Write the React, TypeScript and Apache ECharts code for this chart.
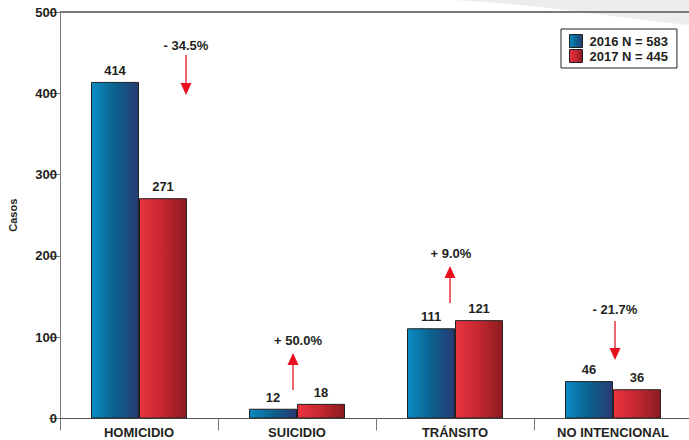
import React, { useEffect, useRef } from "react";
import * as echarts from "echarts";

const categories = ["HOMICIDIO", "SUICIDIO", "TRÁNSITO", "NO INTENCIONAL"];
const values2016 = [414, 12, 111, 46];
const values2017 = [271, 18, 121, 36];
const seriesNames = ["2016 N = 583", "2017 N = 445"];
const changes = ["- 34.5%", "+ 50.0%", "+ 9.0%", "- 21.7%"];
const yMin = 0;
const yMax = 500;
const yInterval = 100;

// annotation layout (pixel offsets / positions, not data)
const annLayout = [
  { dx: 47, textDx: 0, textY: 45, tail: 55, tip: 95 },
  { dx: -4, textDx: 5, textY: 340, tail: 390, tip: 353 },
  { dx: -5, textDx: 1, textY: 253, tail: 303, tip: 266 },
  { dx: 2, textDx: 0, textY: 309, tail: 321, tip: 360 },
];

const FONT = "'Liberation Sans', Arial, Helvetica, sans-serif";
const TXT = "#231f20";

export default function App() {
  const ref = useRef<HTMLDivElement>(null);
  useEffect(() => {
    if (!ref.current) return;
    const chart = echarts.init(ref.current, undefined, { renderer: "svg" });
    const blue = new echarts.graphic.LinearGradient(0, 0, 1, 0, [
      { offset: 0, color: "#0a8cc6" },
      { offset: 0.5, color: "#0b628f" },
      { offset: 1, color: "#283a72" },
    ]);
    const red = new echarts.graphic.LinearGradient(0, 0, 1, 0, [
      { offset: 0, color: "#ea3440" },
      { offset: 0.5, color: "#c42730" },
      { offset: 1, color: "#8a1b1f" },
    ]);
    const labelStyle = {
      show: true,
      position: "top" as const,
      distance: 5,
      color: TXT,
      fontWeight: "bold" as const,
      fontSize: 13,
      fontFamily: FONT,
    };
    chart.setOption({
      animation: false,
      textStyle: { fontFamily: FONT },
      grid: {
        left: 60,
        top: 12,
        width: 632,
        height: 406.5,
        containLabel: false,
        outerBoundsMode: "none",
      },
      legend: {
        left: 561,
        top: 29,
        orient: "vertical",
        itemWidth: 13,
        itemHeight: 13,
        itemGap: 1,
        padding: [5, 9, 5, 8],
        borderColor: "#222",
        borderWidth: 1,
        backgroundColor: "#fff",
        icon: "rect",
        itemStyle: { borderColor: "#222", borderWidth: 1 },
        textStyle: { color: TXT, fontWeight: "bold", fontSize: 13, fontFamily: FONT, padding: [0, 0, 0, 2] },
        data: seriesNames,
      },
      xAxis: {
        type: "category",
        data: categories,
        axisLine: { lineStyle: { color: "#555", width: 1 } },
        axisTick: { show: true, length: 12, lineStyle: { color: "#777" } },
        axisLabel: { color: TXT, fontWeight: "bold", fontSize: 13, fontFamily: FONT, margin: 7 },
      },
      yAxis: {
        type: "value",
        min: yMin,
        max: yMax,
        interval: yInterval,
        name: "Casos",
        nameLocation: "middle",
        nameGap: 42,
        nameRotate: 90,
        nameTextStyle: { color: TXT, fontWeight: "bold", fontSize: 11, fontFamily: FONT },
        axisLine: { show: true, lineStyle: { color: "#777", width: 1 } },
        axisTick: { show: true, length: 11, lineStyle: { color: "#777" } },
        axisLabel: { color: TXT, fontWeight: "bold", fontSize: 13, fontFamily: FONT, margin: 3 },
        splitLine: { show: false },
      },
      series: [
        {
          name: seriesNames[0],
          type: "bar",
          data: values2016,
          barWidth: 48,
          barGap: "0%",
          itemStyle: { color: blue, borderColor: "#222", borderWidth: 1 },
          label: labelStyle,
        },
        {
          name: seriesNames[1],
          type: "bar",
          data: values2017,
          barWidth: 48,
          barGap: "0%",
          itemStyle: { color: red, borderColor: "#222", borderWidth: 1 },
          label: labelStyle,
        },
      ],
    });

    const topY = chart.convertToPixel({ yAxisIndex: 0 }, yMax) as number;
    const leftX = chart.convertToPixel({ xAxisIndex: 0 }, categories[0]) as number - 79;
    const graphics: any[] = [
      {
        type: "polygon",
        z: -1,
        shape: {
          points: [
            [455, 0], [689, 0], [689, 25], [660, 22], [620, 17], [580, 12], [540, 7], [500, 3],
          ],
        },
        style: { fill: "#ececec" },
        silent: true,
      },
      {
        type: "line",
        shape: { x1: leftX, y1: topY, x2: 689, y2: topY },
        style: { stroke: "#7a7a7a", lineWidth: 2 },
        silent: true,
      },
    ];
    categories.forEach((c, i) => {
      const cx = chart.convertToPixel({ xAxisIndex: 0 }, c) as number;
      const a = annLayout[i];
      const ax = cx + a.dx;
      const down = a.tip > a.tail;
      const headLen = 12;
      const headBase = down ? a.tip - headLen : a.tip + headLen;
      graphics.push({
        type: "text",
        style: {
          text: changes[i],
          x: ax + a.textDx,
          y: a.textY,
          align: "center",
          verticalAlign: "middle",
          fill: TXT,
          font: `bold 13px ${FONT}`,
        },
      });
      graphics.push({
        type: "line",
        shape: { x1: ax, y1: a.tail, x2: ax, y2: headBase },
        style: { stroke: "#e8323f", lineWidth: 1.5 },
      });
      graphics.push({
        type: "polygon",
        shape: { points: [[ax - 5.5, headBase], [ax + 5.5, headBase], [ax, a.tip]] },
        style: { fill: "#e8101e" },
      });
    });
    chart.setOption({ graphic: graphics });

    return () => chart.dispose();
  }, []);
  return (
    <div
      ref={ref}
      style={{ position: "fixed", left: 0, top: 0, width: 689, height: 440, background: "#fff" }}
    />
  );
}
